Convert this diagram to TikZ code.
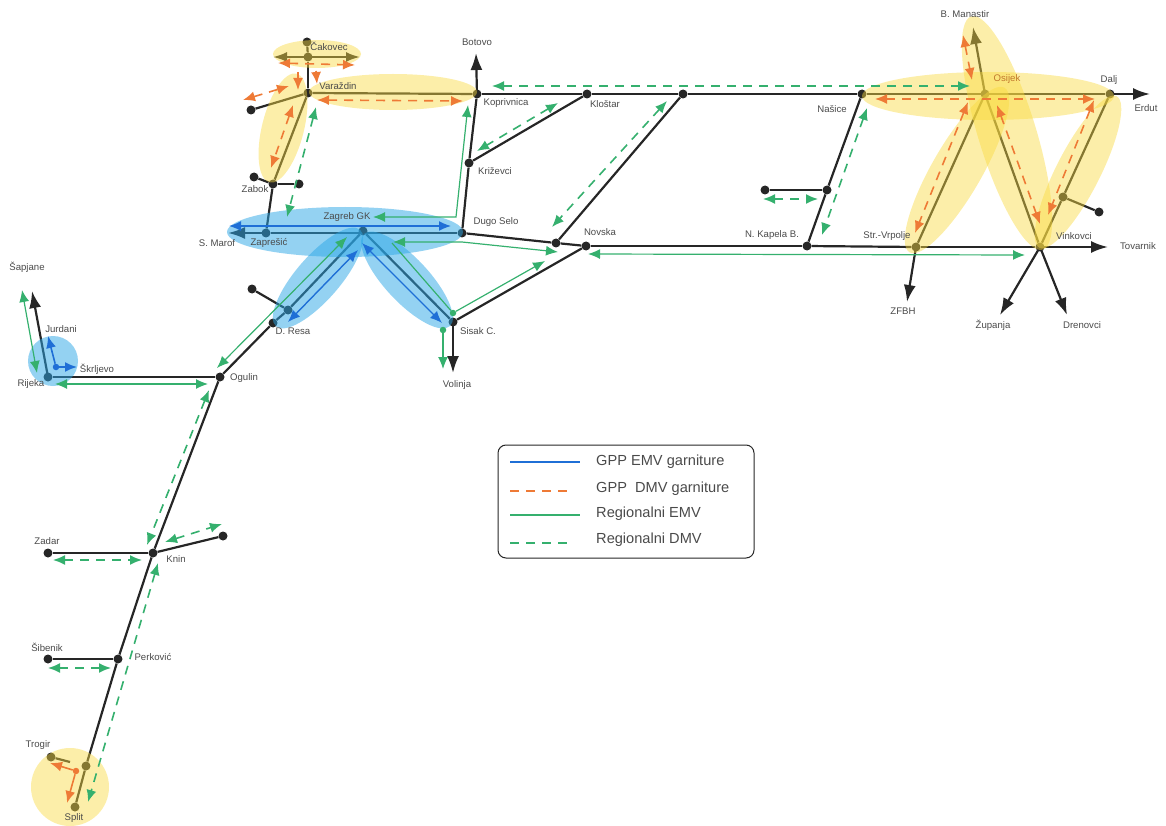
\documentclass[tikz,border=0pt]{standalone}
\usepackage{fontspec}
\setmainfont{Liberation Sans}
\usetikzlibrary{calc,arrows.meta,shapes.geometric}
\definecolor{trackc}{HTML}{262626}
\definecolor{gppe}{HTML}{1F6FD6}
\definecolor{gppd}{HTML}{EE7A36}
\definecolor{regc}{HTML}{35B06E}
\definecolor{zoney}{HTML}{F9DA40}
\definecolor{zoneb}{HTML}{2AA6E6}
\definecolor{labelc}{HTML}{4A4A4A}
\begin{document}
\begin{tikzpicture}[>=Latex,x=1pt,y=-1pt,
  stn/.style={circle,fill=trackc,inner sep=0pt,minimum size=9pt},
  track/.style={trackc,line width=2.2pt},
  exit/.style={track,-{Latex[length=17pt,width=12pt]}},
  lbl/.style={text=labelc,font=\fontsize{9.6}{11}\selectfont,inner sep=0pt},
  zoney/.style={ellipse,fill=zoney,fill opacity=0.45,inner sep=0pt},
  zoneb/.style={ellipse,fill=zoneb,fill opacity=0.5,inner sep=0pt},
  tipa/.style={{Latex[length=12pt,width=10pt]}-{Latex[length=12pt,width=10pt]}},
  tipb/.style={-{Latex[length=12pt,width=10pt]}},
  gppemv/.style={gppe,line width=1.4pt},
  gppdmv/.style={gppd,line width=1.6pt,dash pattern=on 9pt off 7pt},
  regemv/.style={regc,line width=1.2pt},
  regdmv/.style={regc,line width=1.6pt,dash pattern=on 9pt off 7pt},
  legtxt/.style={text=labelc,font=\fontsize{14.6}{16}\selectfont,anchor=west,inner sep=0pt}]
  \useasboundingbox (0,0) rectangle (1166,826);
  % Stations
  \foreach \n/\px/\py in {cakovecj/308/57,varazdin/308/93,koprivnica/477/94,zabok/273/184,zapresic/266/233,
    zagreb/363/231,dugoselo/462/233,krizevci/469/163,klostar/587/94,topj/683/94,novskaj/556/243,novska/586/246,
    nasice/862/94,osijek/985/94,dalj/1110/94,vrpolje/916/247,vinkovci/1040/247,kapela/807/246,nasicej/827/190,
    dresaj/288/310,dresa/273/323,ogulin/220/377,sisak/453/322,rijeka/48/377,knin/153/553,perkovic/118/659,
    splitj/86/766,cakovec/307/42,varleft/251/110,zabokl/254/177,zabokr/299/184,dresaend/252/289,
    vinkend/1099/212,vinkj/1063/197,nasend/765/190,zadar/48/553,kninend/223/536,sibenik/48/659,split/75/807,
    trogir/51/757}{
    \node[stn] (\n) at (\px,\py) {};
  }
  % Free ends of the exit lines
  \foreach \n/\px/\py in {botovoe/476/53,smarofe/228/233,erdute/1150/94,manastire/973/27,tovarnike/1108/247,
    zfbhe/907/302,zupanjae/1000/315,drenovcie/1067/315,volinjae/453/373,sapjanee/32/291,cakl/273/57,cakr/360/57,
    trogirj/70/762}{
    \coordinate (\n) at (\px,\py);
  }
  % Lines
  \foreach \a/\b in {cakovec/cakovecj,cakovecj/varazdin,varazdin/varleft,varazdin/koprivnica,varazdin/zabok,zabok/zabokl,
    zabok/zabokr,zabok/zapresic,zapresic/dugoselo,koprivnica/klostar,klostar/topj,topj/nasice,nasice/dalj,
    koprivnica/krizevci,krizevci/dugoselo,krizevci/klostar,dugoselo/novskaj,novskaj/novska,novskaj/topj,novska/kapela,
    kapela/vrpolje,vrpolje/vinkovci,nasice/nasicej,nasicej/kapela,nasicej/nasend,osijek/vrpolje,osijek/vinkovci,
    dalj/vinkj,vinkj/vinkovci,vinkj/vinkend,zagreb/dresaj,dresaj/dresa,dresaj/dresaend,dresa/ogulin,zagreb/sisak,
    sisak/novska,rijeka/ogulin,ogulin/knin,knin/zadar,knin/kninend,knin/perkovic,perkovic/sibenik,perkovic/splitj,
    splitj/split,trogir/trogirj}{
    \draw[track] (\a)--(\b);
  }
  % Exits
  \foreach \a/\b in {koprivnica/botovoe,zapresic/smarofe,dalj/erdute,osijek/manastire,vinkovci/tovarnike,vrpolje/zfbhe,
    vinkovci/zupanjae,vinkovci/drenovcie,sisak/volinjae,rijeka/sapjanee}{
    \draw[exit] (\a.center)--(\b);
  }
  \draw[exit,{Latex[length=14pt,width=10pt]}-{Latex[length=14pt,width=10pt]}] (cakl)--(cakr);
  % Zones
  \foreach \n/\px/\py/\w/\h/\r in {zcak/317/54/88/28/0,zvar/393/92/168/36/0,zzab/283/128/112/42/76,zos/988/96/252/48/0,
    zman/1007/133/244/58/-73,zvrp/957/170/190/50/60,zdal/1078/172/170/44/63,zspl/70/787/78/78/0}{
    \node[zoney,minimum width=\w pt,minimum height=\h pt,rotate=\r] (\n) at (\px,\py) {};
  }
  \foreach \n/\px/\py/\w/\h/\r in {zzag/345/232/236/50/0,zres/318/278/128/44/49,zsis/407/280/126/44/-47,zrij/53/361/50/50/0}{
    \node[zoneb,minimum width=\w pt,minimum height=\h pt,rotate=\r] (\n) at (\px,\py) {};
  }
  % Services, double headed
  \foreach \n/\s/\xa/\ya/\xb/\yb in {
    ga/gppemv/229/226/451/226,gb/gppemv/358/250/288/322,gc/gppemv/362/243/442/323,
    da/gppdmv/278/63/355/65,dc/gppdmv/243/100/289/86,dd/gppdmv/317/100/463/101,
    de/gppdmv/293/105/271/168,df/gppdmv/875/99/1095/99,dg/gppdmv/968/102/915/233,dh/gppdmv/997/105/1040/224,
    di/gppdmv/1094/100/1048/215,dj/gppdmv/963/35/972/80,
    ra/regemv/347/237/217/368,rb/regemv/55/384/208/384,rc/regemv/22/290/37/373,rd/regemv/588/254/1025/255,
    ea/regdmv/316/107/287/217,eb/regdmv/492/86/970/86,ec/regdmv/558/103/477/151,ed/regdmv/667/101/552/227,
    ee/regdmv/867/108/822/235,ef/regdmv/763/199/818/199,eg/regdmv/209/390/147/545,eh/regdmv/53/560/142/560,
    ei/regdmv/165/542/222/524,ej/regdmv/158/563/88/802,ek/regdmv/48/668/111/668}{
    \coordinate (\n s) at (\xa,\ya);
    \coordinate (\n e) at (\xb,\yb);
    \draw[\s,tipa] (\n s)--(\n e);
  }
  % Services with bends and stubs
  \coordinate (kopa) at (468,105); \coordinate (kopb) at (456,217); \coordinate (kopc) at (373,217);
  \draw[regemv,tipa] (kopa)--(kopb)--(kopc);
  \coordinate (dsa) at (393,242); \coordinate (dsb) at (462,242); \coordinate (dsc) at (558,252);
  \draw[regemv,tipa] (dsa)--(dsb)--(dsc);
  \node[circle,fill=regc,inner sep=0pt,minimum size=6.5pt] (sisd) at (453,313) {};
  \node[circle,fill=regc,inner sep=0pt,minimum size=6.5pt] (vold) at (443,330) {};
  \coordinate (sise) at (545,261); \coordinate (sisz) at (392,243); \coordinate (vole) at (443,369);
  \draw[regemv,tipb] (sisd)--(sise);
  \draw[regemv] (sisd)--(sisz);
  \draw[regemv,tipb] (vold)--(vole);
  \node[circle,fill=gppe,inner sep=0pt,minimum size=6.5pt] (rijd) at (56,367) {};
  \coordinate (jure) at (48,336); \coordinate (skre) at (77,367);
  \draw[gppe,line width=1.6pt,tipb] (rijd)--(jure);
  \draw[gppe,line width=1.6pt,tipb] (rijd)--(skre);
  \node[circle,fill=gppd,inner sep=0pt,minimum size=6.5pt] (spld) at (76,771) {};
  \coordinate (trge) at (50,763); \coordinate (sple) at (67,803);
  \draw[gppd,line width=1.6pt,tipb] (spld)--(trge);
  \draw[gppd,line width=1.6pt,tipb] (spld)--(sple);
  \coordinate (cda) at (298,72); \coordinate (cdb) at (298,90); \coordinate (cdc) at (316,71); \coordinate (cdd) at (317,84);
  \draw[gppdmv,tipb] (cda)--(cdb);
  \draw[gppdmv,tipb] (cdc)--(cdd);
  % Labels
  \foreach \n/\t/\px/\py in {lcak/Čakovec/329/46,lvar/Varaždin/338/86,lbot/Botovo/477/42,lkop/Koprivnica/506/103,
    lklo/Kloštar/605/104,lkri/Križevci/495/171,ldug/Dugo Selo/496/222,lnov/Novska/600/232,lnas/Našice/832/109,
    lman/B. Manastir/965/14,lda/Dalj/1109/80,lerd/Erdut/1146/108,lvin/Vinkovci/1074/236,ltov/Tovarnik/1138/246,
    lvrp/Str.-Vrpolje/887/236,lkap/N. Kapela B./772/235,lzfb/ZFBH/903/311,lzup/Županja/993/325,ldre/Drenovci/1082/325,
    lzab/Zabok/255/189,lzag/Zagreb GK/347/217,lsma/S. Marof/217/243,lzap/Zaprešić/269/243,lres/D. Resa/293/331,
    lsis/Sisak C./478/331,lvol/Volinja/457/385,logu/Ogulin/244/378,lsap/Šapjane/27/267,ljur/Jurdani/61/329,
    lskr/Škrljevo/97/369,lrij/Rijeka/31/384,lzad/Zadar/47/541,lkni/Knin/176/559,lsib/Šibenik/47/647,
    lper/Perković/153/657,ltro/Trogir/38/745,lspl/Split/74/818}{
    \node[lbl] (\n) at (\px,\py) {\t};
  }
  \node[lbl,text=gppd!70!zoney!80!black] (losi) at (1007,79) {Osijek};
  % Legend
  \node[draw=trackc,line width=1pt,rounded corners=8pt,inner sep=0pt,minimum width=256pt,minimum height=113pt] (legbox) at (626,501.5) {};
  \foreach \n/\s/\t/\ya/\yt/\xe in {lga/gppemv/GPP EMV garniture/462/462/580,lgb/gppdmv/GPP\ \ DMV garniture/491/489/573,
    lgc/regemv/Regionalni EMV/515/514/580,lgd/regdmv/Regionalni DMV/543/540/573}{
    \coordinate (\n s) at (510,\ya);
    \coordinate (\n e) at (\xe,\ya);
    \draw[\s,line width=1.1pt] (\n s)--(\n e);
    \node[legtxt] (\n t) at (596,\yt) {\t};
  }
\end{tikzpicture}
\end{document}
